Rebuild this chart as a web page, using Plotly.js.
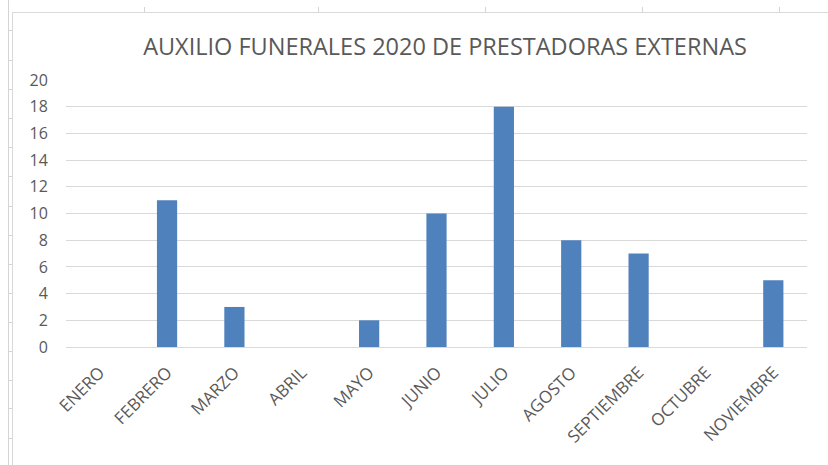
<!DOCTYPE html>
<html>
<head>
<meta charset="utf-8">
<script src="https://cdn.plot.ly/plotly-3.0.1.min.js"></script>
<style>
  html, body { margin: 0; padding: 0; background: #ffffff; }
  #wrap { position: relative; width: 828px; height: 465px; overflow: hidden; }
  #chart { position: absolute; left: 0; top: 0; width: 828px; height: 465px; }
  .ln { position: absolute; background: #d9d9d9; }
</style>
</head>
<body>
<div id="wrap">
  <div id="deco"></div>
  <div id="chart"></div>
</div>
<script>
// Data
const months = ["ENERO", "FEBRERO", "MARZO", "ABRIL", "MAYO", "JUNIO", "JULIO", "AGOSTO", "SEPTIEMBRE", "OCTUBRE", "NOVIEMBRE"];
const values = [0, 11, 3, 0, 2, 10, 18, 8, 7, 0, 5];
const yTicks = [0, 2, 4, 6, 8, 10, 12, 14, 16, 18, 20];
const chartTitle = "AUXILIO FUNERALES 2020 DE PRESTADORAS EXTERNAS";

// Spreadsheet background decoration (cell borders behind the chart)
const deco = document.getElementById('deco');
function addLine(l, t, w, h, c) {
  const d = document.createElement('div');
  d.className = 'ln';
  d.style.left = l + 'px'; d.style.top = t + 'px';
  d.style.width = w + 'px'; d.style.height = h + 'px';
  if (c) d.style.background = c;
  deco.appendChild(d);
}
addLine(8, 0, 1, 465, '#d4d4d4');          // sheet column line
addLine(12, 12, 1, 453, '#d9d9d9');        // chart border left
addLine(12, 12, 816, 1, '#d9d9d9');        // chart border top
[30, 60, 89, 118, 147, 176, 206, 235, 264, 293, 322, 351, 380, 408, 438].forEach(y => addLine(8, y, 4, 1, '#d4d4d4'));
[144, 318, 485, 642, 779].forEach(x => addLine(x, 7, 1, 5, '#d4d4d4'));

const trace = {
  type: 'bar',
  x: months,
  y: values,
  marker: { color: '#4F81BD', line: { width: 0 } },
  hoverinfo: 'x+y'
};

const layout = {
  width: 828,
  height: 465,
  margin: { l: 66, r: 21, t: 80, b: 118 },
  paper_bgcolor: 'rgba(0,0,0,0)',
  plot_bgcolor: 'rgba(0,0,0,0)',
  bargap: 0.7,
  showlegend: false,
  title: {
    text: chartTitle,
    font: { family: 'Open Sans, sans-serif', size: 23.5, color: '#595959' },
    x: 445 / 828,
    xref: 'container',
    xanchor: 'center',
    y: 1 - 47 / 465,
    yref: 'container',
    yanchor: 'middle'
  },
  xaxis: {
    type: 'category',
    tickangle: -45,
    tickfont: { family: 'Open Sans, sans-serif', size: 17, color: '#595959' },
    showgrid: false,
    showline: false,
    zeroline: false,
    ticks: 'outside',
    ticklen: 8,
    tickcolor: 'rgba(0,0,0,0)',
    fixedrange: true
  },
  yaxis: {
    range: [0, 20],
    tickvals: yTicks,
    ticktext: yTicks.map(String),
    tickfont: { family: 'Open Sans, sans-serif', size: 16, color: '#595959' },
    showgrid: true,
    gridcolor: '#d9d9d9',
    gridwidth: 1,
    zeroline: true,
    zerolinecolor: '#d9d9d9',
    zerolinewidth: 1,
    showline: false,
    ticks: 'outside',
    ticklen: 14,
    tickcolor: 'rgba(0,0,0,0)',
    fixedrange: true
  }
};

Plotly.newPlot('chart', [trace], layout, { displayModeBar: false, staticPlot: true });
</script>
</body>
</html>
